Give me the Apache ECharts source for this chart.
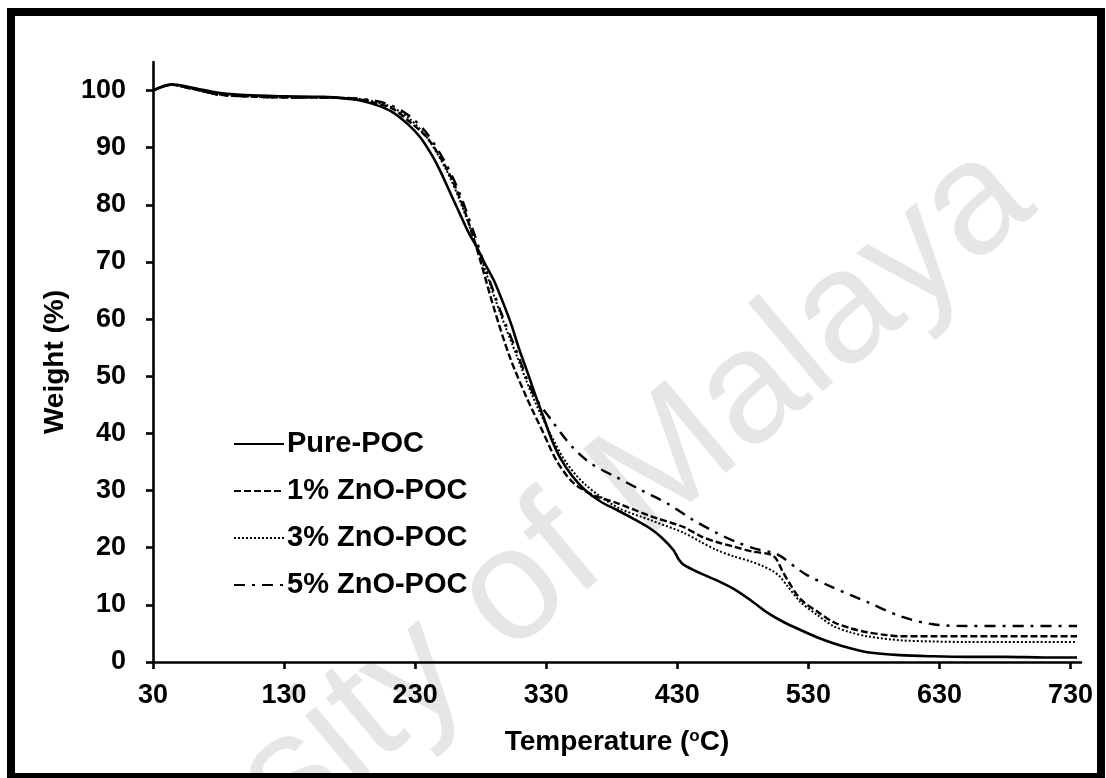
<!DOCTYPE html>
<html>
<head>
<meta charset="utf-8">
<script src="https://cdn.jsdelivr.net/npm/echarts@6/dist/echarts.min.js"></script>
<style>
html,body{margin:0;padding:0;background:#fff;}
#chart{width:1106px;height:778px;}
</style>
</head>
<body>
<div id="chart"></div>
<script>
// ---- data ----
const seriesNames = ['Pure-POC', '1% ZnO-POC', '3% ZnO-POC', '5% ZnO-POC'];
const xTicks = [30, 130, 230, 330, 430, 530, 630, 730];
const yTicks = [0, 10, 20, 30, 40, 50, 60, 70, 80, 90, 100];

const pureT = [30, 44, 60, 80, 100, 130, 160, 185, 200, 213, 225, 234, 242, 249, 257, 264, 270, 277, 283, 290, 296, 303, 309, 316, 322, 328, 334, 341, 350, 360, 372, 384, 397, 409, 418, 427, 431, 435, 447, 460, 473, 486, 499, 511, 524, 537, 549, 562, 575, 600, 625, 650, 680, 710, 735];
const pureW = [100, 101.1, 100.5, 99.6, 99.2, 99.0, 98.9, 98.4, 97.5, 96.2, 94.0, 91.8, 89.0, 86.0, 82.0, 78.5, 75.5, 72.6, 69.8, 66.8, 63.5, 59.3, 55.0, 50.5, 46.5, 42.8, 39.0, 35.6, 32.5, 30.0, 28.0, 26.6, 25.0, 23.4, 21.8, 19.6, 18.0, 17.0, 15.6, 14.3, 12.8, 10.8, 8.6, 7.0, 5.6, 4.3, 3.3, 2.4, 1.7, 1.2, 1.0, 0.9, 0.9, 0.8, 0.8];

const zno1T = [30, 44, 60, 80, 100, 130, 160, 185, 200, 213, 226, 239, 250, 260, 270, 280, 290, 302, 315, 328, 338, 350, 365, 384, 410, 435, 448, 460, 473, 488, 500, 505, 510, 515, 524, 537, 549, 562, 575, 590, 600, 625, 650, 700, 735];
const zno1W = [100, 101, 100.3, 99.3, 99.0, 98.8, 98.8, 98.5, 97.8, 96.8, 94.5, 91.8, 88.0, 83.5, 77.5, 70.0, 62.0, 53.5, 46.3, 40.0, 35.2, 31.5, 29.3, 27.8, 25.5, 23.6, 22.0, 21.0, 20.2, 19.3, 18.9, 18.2, 16.0, 14.0, 11.0, 8.8, 7.0, 5.9, 5.2, 4.7, 4.5, 4.5, 4.5, 4.5, 4.5];

const zno3T = [30, 44, 60, 80, 100, 130, 160, 185, 200, 213, 226, 239, 254, 264, 275, 285, 295, 308, 320, 333, 345, 360, 384, 410, 435, 448, 460, 473, 486, 495, 503, 508, 514, 524, 537, 549, 562, 575, 600, 625, 650, 700, 735];
const zno3W = [100, 101, 100.3, 99.3, 99.0, 98.8, 98.8, 98.6, 98.0, 97.0, 95.0, 91.8, 86.0, 80.8, 74.0, 67.5, 61.0, 53.3, 46.3, 40.0, 35.0, 31.0, 27.1, 24.8, 22.6, 21.0, 19.6, 18.5, 17.6, 16.8, 15.9, 15.0, 13.3, 10.5, 8.2, 6.3, 5.2, 4.5, 3.8, 3.6, 3.5, 3.5, 3.5];

const zno5T = [30, 44, 60, 80, 100, 130, 160, 185, 200, 213, 226, 239, 254, 264, 275, 285, 295, 308, 320, 335, 350, 365, 384, 403, 422, 441, 460, 475, 490, 500, 505, 511, 520, 529, 549, 575, 600, 625, 650, 700, 735];
const zno5W = [100, 101, 100.3, 99.3, 99.0, 98.8, 98.8, 98.6, 98.2, 97.3, 95.5, 92.5, 87.0, 82.0, 75.0, 68.0, 61.5, 54.0, 47.0, 42.0, 37.6, 34.6, 32.3, 30.0, 27.8, 25.0, 22.6, 21.0, 19.8, 19.3, 19.0, 18.2, 16.6, 15.2, 13.0, 10.5, 8.0, 6.6, 6.3, 6.3, 6.3];

function pairs(xs, ys) { return xs.map((x, i) => [x, ys[i]]); }

const FONT = 'Liberation Sans, Arial, sans-serif';
const chart = echarts.init(document.getElementById('chart'), null, {renderer: 'canvas'});

const lineStyles = [
  {type: 'solid', width: 2.6},
  {type: [7, 3], width: 2.4},
  {type: [2, 2], width: 2},
  {type: [11, 7, 3, 7], width: 2.4}
];
const datasets = [pairs(pureT, pureW), pairs(zno1T, zno1W), pairs(zno3T, zno3W), pairs(zno5T, zno5W)];

chart.setOption({
  animation: false,
  backgroundColor: '#fff',
  graphic: [
    {
      type: 'text', z: -10,
      x: 459, y: 639, rotation: 40 * Math.PI / 180,
      style: {text: 'University of Malaya', fill: '#e6e6e6', font: '160px Liberation Sans, Arial, sans-serif', textAlign: 'center', textVerticalAlign: 'middle'}
    },
    {
      type: 'rect', z: 100,
      shape: {x: 11, y: 12, width: 1090, height: 765},
      style: {fill: 'none', stroke: '#000', lineWidth: 8}
    }
  ],
  grid: {left: 153, right: 25, top: 62, bottom: 116, containLabel: false},
  legend: {
    orient: 'vertical', left: 233, top: 429, padding: 0,
    itemWidth: 50, itemHeight: 20, itemGap: 17,
    itemStyle: {opacity: 0},
    textStyle: {fontFamily: FONT, fontWeight: 'bold', fontSize: 29, lineHeight: 30, color: '#000', padding: [0, 0, 0, -2]},
    data: seriesNames
  },
  xAxis: {
    type: 'value', min: 30, max: 738,
    name: '{a|Temperature (}{s|o}{a|C)}',
    nameLocation: 'middle', nameGap: 66,
    nameTextStyle: {rich: {
      a: {fontFamily: FONT, fontWeight: 'bold', fontSize: 28, color: '#000'},
      s: {fontFamily: FONT, fontWeight: 'bold', fontSize: 17, color: '#000', verticalAlign: 'top', padding: [0, 0, 12, 0]}
    }},
    axisLine: {lineStyle: {color: '#000', width: 2.6}},
    axisTick: {show: true, length: 7, inside: false, lineStyle: {color: '#000', width: 2.6}, customValues: xTicks},
    axisLabel: {fontFamily: FONT, fontWeight: 'bold', fontSize: 27, color: '#000', margin: 20, customValues: xTicks},
    splitLine: {show: false}
  },
  yAxis: {
    type: 'value', min: 0, max: 105,
    name: 'Weight (%)', nameLocation: 'middle', nameGap: 84, nameRotate: 90,
    nameTextStyle: {fontFamily: FONT, fontWeight: 'bold', fontSize: 28, color: '#000'},
    axisLine: {show: true, lineStyle: {color: '#000', width: 2.6}},
    axisTick: {show: true, length: 7, lineStyle: {color: '#000', width: 2.6}, customValues: yTicks},
    axisLabel: {fontFamily: FONT, fontWeight: 'bold', fontSize: 27, color: '#000', margin: 27, customValues: yTicks},
    splitLine: {show: false}
  },
  series: seriesNames.map((n, i) => ({
    name: n, type: 'line', data: datasets[i], symbol: 'none', smooth: 0.3,
    lineStyle: Object.assign({color: '#000'}, lineStyles[i]),
    itemStyle: {color: '#000'}
  }))
});
</script>
</body>
</html>
